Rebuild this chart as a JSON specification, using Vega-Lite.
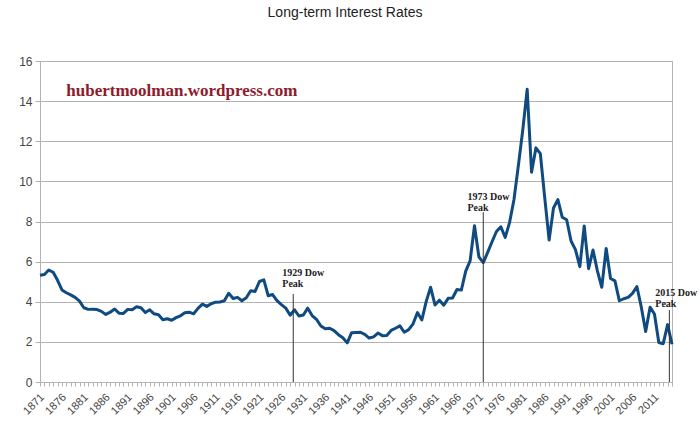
{
  "$schema": "https://vega.github.io/schema/vega-lite/v6.json",
  "autosize": "none",
  "padding": {"left": 40, "top": 61, "right": 28, "bottom": 51},
  "width": 632,
  "height": 321,
  "background": "white",
  "title": {
    "text": "Long-term Interest Rates",
    "font": "Liberation Sans",
    "fontSize": 14,
    "fontWeight": "normal",
    "color": "#222222",
    "anchor": "middle",
    "dx": -11,
    "offset": 35
  },
  "config": {
    "view": {"stroke": "#b3b3b3", "strokeWidth": 1}
  },
  "datasets": {
    "rates": [
      {"year": 1871, "rate": 5.32}, {"year": 1872, "rate": 5.36}, {"year": 1873, "rate": 5.58}, {"year": 1874, "rate": 5.47},
      {"year": 1875, "rate": 5.07}, {"year": 1876, "rate": 4.59}, {"year": 1877, "rate": 4.45}, {"year": 1878, "rate": 4.34},
      {"year": 1879, "rate": 4.22}, {"year": 1880, "rate": 4.03}, {"year": 1881, "rate": 3.70}, {"year": 1882, "rate": 3.62},
      {"year": 1883, "rate": 3.63}, {"year": 1884, "rate": 3.61}, {"year": 1885, "rate": 3.52}, {"year": 1886, "rate": 3.37},
      {"year": 1887, "rate": 3.48}, {"year": 1888, "rate": 3.64}, {"year": 1889, "rate": 3.43}, {"year": 1890, "rate": 3.42},
      {"year": 1891, "rate": 3.62}, {"year": 1892, "rate": 3.60}, {"year": 1893, "rate": 3.75}, {"year": 1894, "rate": 3.70},
      {"year": 1895, "rate": 3.46}, {"year": 1896, "rate": 3.60}, {"year": 1897, "rate": 3.40}, {"year": 1898, "rate": 3.35},
      {"year": 1899, "rate": 3.10}, {"year": 1900, "rate": 3.15}, {"year": 1901, "rate": 3.08}, {"year": 1902, "rate": 3.21},
      {"year": 1903, "rate": 3.30}, {"year": 1904, "rate": 3.45}, {"year": 1905, "rate": 3.48}, {"year": 1906, "rate": 3.40},
      {"year": 1907, "rate": 3.67}, {"year": 1908, "rate": 3.88}, {"year": 1909, "rate": 3.77}, {"year": 1910, "rate": 3.90},
      {"year": 1911, "rate": 3.98}, {"year": 1912, "rate": 3.99}, {"year": 1913, "rate": 4.05}, {"year": 1914, "rate": 4.42},
      {"year": 1915, "rate": 4.16}, {"year": 1916, "rate": 4.22}, {"year": 1917, "rate": 4.05}, {"year": 1918, "rate": 4.20},
      {"year": 1919, "rate": 4.55}, {"year": 1920, "rate": 4.51}, {"year": 1921, "rate": 5.01}, {"year": 1922, "rate": 5.09},
      {"year": 1923, "rate": 4.30}, {"year": 1924, "rate": 4.36}, {"year": 1925, "rate": 4.06}, {"year": 1926, "rate": 3.86},
      {"year": 1927, "rate": 3.68}, {"year": 1928, "rate": 3.33}, {"year": 1929, "rate": 3.60}, {"year": 1930, "rate": 3.29},
      {"year": 1931, "rate": 3.34}, {"year": 1932, "rate": 3.68}, {"year": 1933, "rate": 3.31}, {"year": 1934, "rate": 3.12},
      {"year": 1935, "rate": 2.79}, {"year": 1936, "rate": 2.65}, {"year": 1937, "rate": 2.68}, {"year": 1938, "rate": 2.56},
      {"year": 1939, "rate": 2.36}, {"year": 1940, "rate": 2.21}, {"year": 1941, "rate": 1.95}, {"year": 1942, "rate": 2.46},
      {"year": 1943, "rate": 2.47}, {"year": 1944, "rate": 2.48}, {"year": 1945, "rate": 2.37}, {"year": 1946, "rate": 2.19},
      {"year": 1947, "rate": 2.25}, {"year": 1948, "rate": 2.44}, {"year": 1949, "rate": 2.31}, {"year": 1950, "rate": 2.32},
      {"year": 1951, "rate": 2.57}, {"year": 1952, "rate": 2.68}, {"year": 1953, "rate": 2.80}, {"year": 1954, "rate": 2.48},
      {"year": 1955, "rate": 2.61}, {"year": 1956, "rate": 2.90}, {"year": 1957, "rate": 3.46}, {"year": 1958, "rate": 3.09},
      {"year": 1959, "rate": 4.02}, {"year": 1960, "rate": 4.72}, {"year": 1961, "rate": 3.84}, {"year": 1962, "rate": 4.08},
      {"year": 1963, "rate": 3.83}, {"year": 1964, "rate": 4.17}, {"year": 1965, "rate": 4.19}, {"year": 1966, "rate": 4.61},
      {"year": 1967, "rate": 4.58}, {"year": 1968, "rate": 5.53}, {"year": 1969, "rate": 6.04}, {"year": 1970, "rate": 7.79},
      {"year": 1971, "rate": 6.24}, {"year": 1972, "rate": 5.95}, {"year": 1973, "rate": 6.46}, {"year": 1974, "rate": 6.99},
      {"year": 1975, "rate": 7.50}, {"year": 1976, "rate": 7.74}, {"year": 1977, "rate": 7.21}, {"year": 1978, "rate": 7.96},
      {"year": 1979, "rate": 9.10}, {"year": 1980, "rate": 10.80}, {"year": 1981, "rate": 12.57}, {"year": 1982, "rate": 14.59},
      {"year": 1983, "rate": 10.46}, {"year": 1984, "rate": 11.67}, {"year": 1985, "rate": 11.38}, {"year": 1986, "rate": 9.19},
      {"year": 1987, "rate": 7.08}, {"year": 1988, "rate": 8.67}, {"year": 1989, "rate": 9.09}, {"year": 1990, "rate": 8.21},
      {"year": 1991, "rate": 8.09}, {"year": 1992, "rate": 7.03}, {"year": 1993, "rate": 6.60}, {"year": 1994, "rate": 5.75},
      {"year": 1995, "rate": 7.78}, {"year": 1996, "rate": 5.65}, {"year": 1997, "rate": 6.58}, {"year": 1998, "rate": 5.54},
      {"year": 1999, "rate": 4.72}, {"year": 2000, "rate": 6.66}, {"year": 2001, "rate": 5.16}, {"year": 2002, "rate": 5.04},
      {"year": 2003, "rate": 4.05}, {"year": 2004, "rate": 4.15}, {"year": 2005, "rate": 4.22}, {"year": 2006, "rate": 4.42},
      {"year": 2007, "rate": 4.76}, {"year": 2008, "rate": 3.74}, {"year": 2009, "rate": 2.52}, {"year": 2010, "rate": 3.73},
      {"year": 2011, "rate": 3.39}, {"year": 2012, "rate": 1.97}, {"year": 2013, "rate": 1.91}, {"year": 2014, "rate": 2.86},
      {"year": 2015, "rate": 1.88}
    ],
    "peaks": [
      {"label": "1929 Dow|Peak", "pos": 1928.7, "top": 4.39, "bottom": 0, "labelYear": 1926.2, "labelRate": 5.28},
      {"label": "1973 Dow|Peak", "pos": 1972.0, "top": 8.47, "bottom": 0, "labelYear": 1968.4, "labelRate": 9.07},
      {"label": "2015 Dow|Peak", "pos": 2014.4, "top": 3.59, "bottom": 0, "labelYear": 2011.2, "labelRate": 4.31}
    ],
    "site": [
      {"text": "hubertmoolman.wordpress.com", "year": 1877.0, "rate": 14.25}
    ]
  },
  "layer": [
    {
      "data": {"name": "rates"},
      "mark": {"type": "line", "color": "#0f4a80", "strokeWidth": 3, "strokeJoin": "round", "clip": false},
      "encoding": {
        "x": {
          "field": "year", "type": "quantitative",
          "scale": {"domain": [1871, 2015], "nice": false, "zero": false},
          "axis": {
            "title": null,
            "tickCount": 144,
            "labelExpr": "(datum.value - 1871) % 5 === 0 ? '' + datum.value : ''",
            "labelOverlap": false,
            "labelFlush": false,
            "labelAngle": -45,
            "labelAlign": "right",
            "labelBaseline": "top",
            "labelFont": "Liberation Sans",
            "labelFontSize": 11,
            "labelColor": "#444444",
            "labelPadding": 5,
            "labelOffset": -2,
            "tickSize": 4,
            "tickColor": "#b3b3b3",
            "domainColor": "#b3b3b3",
            "grid": false
          }
        },
        "y": {
          "field": "rate", "type": "quantitative",
          "scale": {"domain": [0, 16], "nice": false},
          "axis": {
            "title": null,
            "values": [0, 2, 4, 6, 8, 10, 12, 14, 16],
            "labelFont": "Liberation Sans",
            "labelFontSize": 12,
            "labelColor": "#444444",
            "labelPadding": 3,
            "tickSize": 5,
            "tickColor": "#b3b3b3",
            "domainColor": "#b3b3b3",
            "gridColor": "#b3b3b3",
            "grid": true
          }
        }
      }
    },
    {
      "data": {"name": "peaks"},
      "mark": {"type": "rule", "color": "#333333", "strokeWidth": 1},
      "encoding": {
        "x": {"field": "pos", "type": "quantitative"},
        "y": {"field": "top", "type": "quantitative"},
        "y2": {"field": "bottom"}
      }
    },
    {
      "data": {"name": "peaks"},
      "mark": {"type": "text", "font": "Liberation Serif", "fontWeight": "bold", "fontSize": 10, "color": "#222222", "align": "left", "baseline": "alphabetic", "lineBreak": "|", "lineHeight": 11},
      "encoding": {
        "x": {"field": "labelYear", "type": "quantitative"},
        "y": {"field": "labelRate", "type": "quantitative"},
        "text": {"field": "label", "type": "nominal"}
      }
    },
    {
      "data": {"name": "site"},
      "mark": {"type": "text", "font": "Liberation Serif", "fontWeight": "bold", "fontSize": 17, "color": "#8e1b2c", "align": "left", "baseline": "alphabetic"},
      "encoding": {
        "x": {"field": "year", "type": "quantitative"},
        "y": {"field": "rate", "type": "quantitative"},
        "text": {"field": "text", "type": "nominal"}
      }
    }
  ]
}
